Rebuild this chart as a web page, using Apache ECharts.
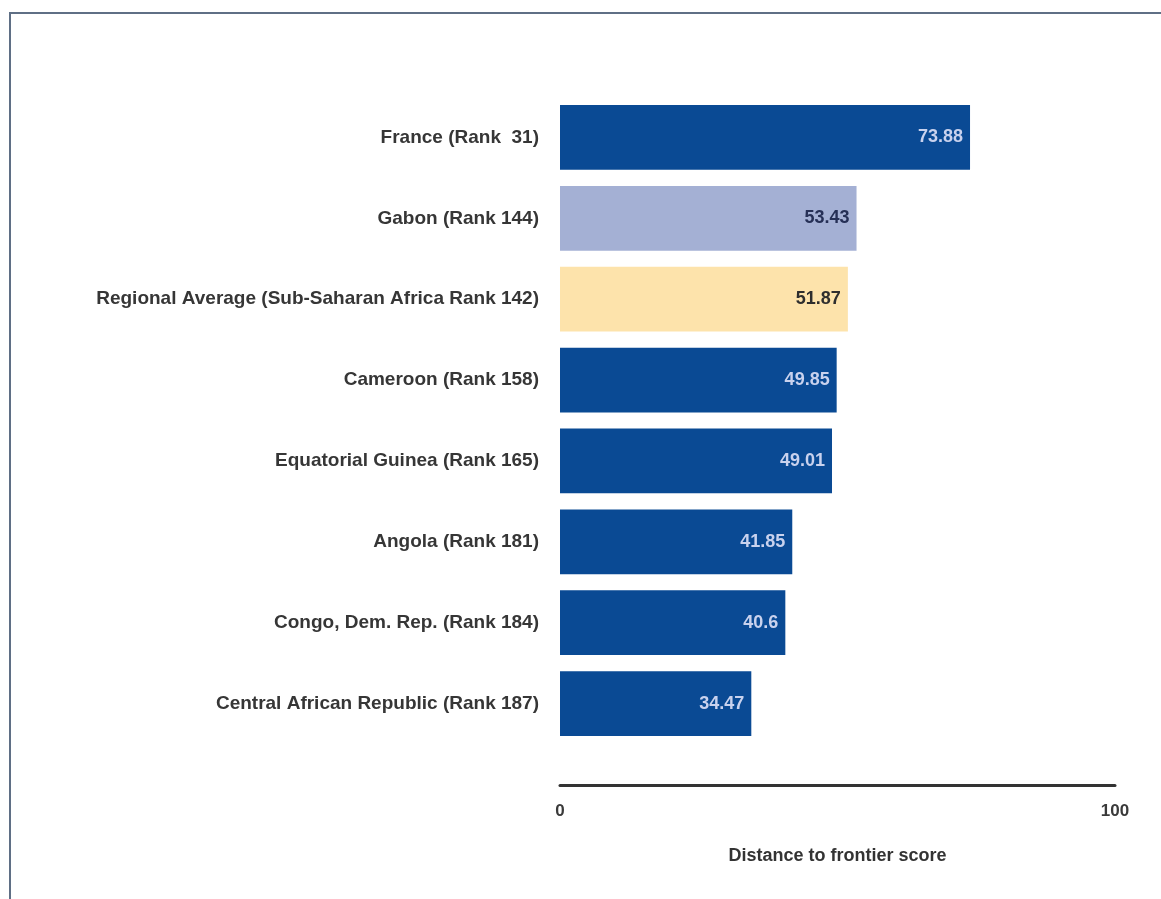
<!DOCTYPE html>
<html>
<head>
<meta charset="utf-8">
<script src="https://cdn.jsdelivr.net/npm/echarts@6/dist/echarts.min.js"></script>
<style>
html,body{margin:0;padding:0;background:#fff;overflow:hidden;}
#frame{position:absolute;left:9px;top:12px;width:1300px;height:1000px;border-left:2px solid #5f6f85;border-top:2px solid #5f6f85;}
#main{position:absolute;left:0;top:0;width:1161px;height:899px;}
</style>
</head>
<body>
<div id="frame"></div>
<div id="main"></div>
<script>
const categories = [
  'France (Rank  31)',
  'Gabon (Rank 144)',
  'Regional Average (Sub-Saharan Africa Rank 142)',
  'Cameroon (Rank 158)',
  'Equatorial Guinea (Rank 165)',
  'Angola (Rank 181)',
  'Congo, Dem. Rep. (Rank 184)',
  'Central African Republic (Rank 187)'
];
const scores = [73.88, 53.43, 51.87, 49.85, 49.01, 41.85, 40.6, 34.47];
const barColors = ['#0a4a94', '#a4b0d4', '#fde3ab', '#0a4a94', '#0a4a94', '#0a4a94', '#0a4a94', '#0a4a94'];
const labelColors = ['#c9d2ee', '#263056', '#2e2e2e', '#c9d2ee', '#c9d2ee', '#c9d2ee', '#c9d2ee', '#c9d2ee'];
const xTicks = [0, 100];

const chart = echarts.init(document.getElementById('main'));
const font = '"Liberation Sans", Arial, sans-serif';
chart.setOption({
  backgroundColor: 'transparent',
  animation: false,
  grid: { left: 560, right: 46, top: 97, bottom: 155, containLabel: false },
  xAxis: {
    type: 'value', min: xTicks[0], max: xTicks[1], interval: 100,
    offset: 41,
    axisLine: { show: true, lineStyle: { color: '#333', width: 3 } },
    axisTick: { show: false },
    splitLine: { show: false },
    axisLabel: { color: '#3a3a3a', fontSize: 17, fontWeight: 'bold', fontFamily: font, margin: 18 },
    name: 'Distance to frontier score', nameLocation: 'middle', nameGap: 62,
    nameTextStyle: { color: '#333', fontSize: 18, fontWeight: 'bold', fontFamily: font }
  },
  yAxis: {
    type: 'category', data: categories, inverse: true,
    axisLine: { show: false }, axisTick: { show: false },
    axisLabel: { color: '#363636', fontSize: 19, fontWeight: 'bold', fontFamily: font, margin: 21 }
  },
  series: [{
    type: 'bar',
    barCategoryGap: '20%',
    data: scores.map((v, i) => ({
      value: v,
      itemStyle: { color: barColors[i] },
      label: { color: labelColors[i] }
    })),
    label: {
      show: true, position: 'insideRight', distance: 7,
      fontSize: 18, fontWeight: 'bold', fontFamily: font
    }
  }]
});
</script>
</body>
</html>
